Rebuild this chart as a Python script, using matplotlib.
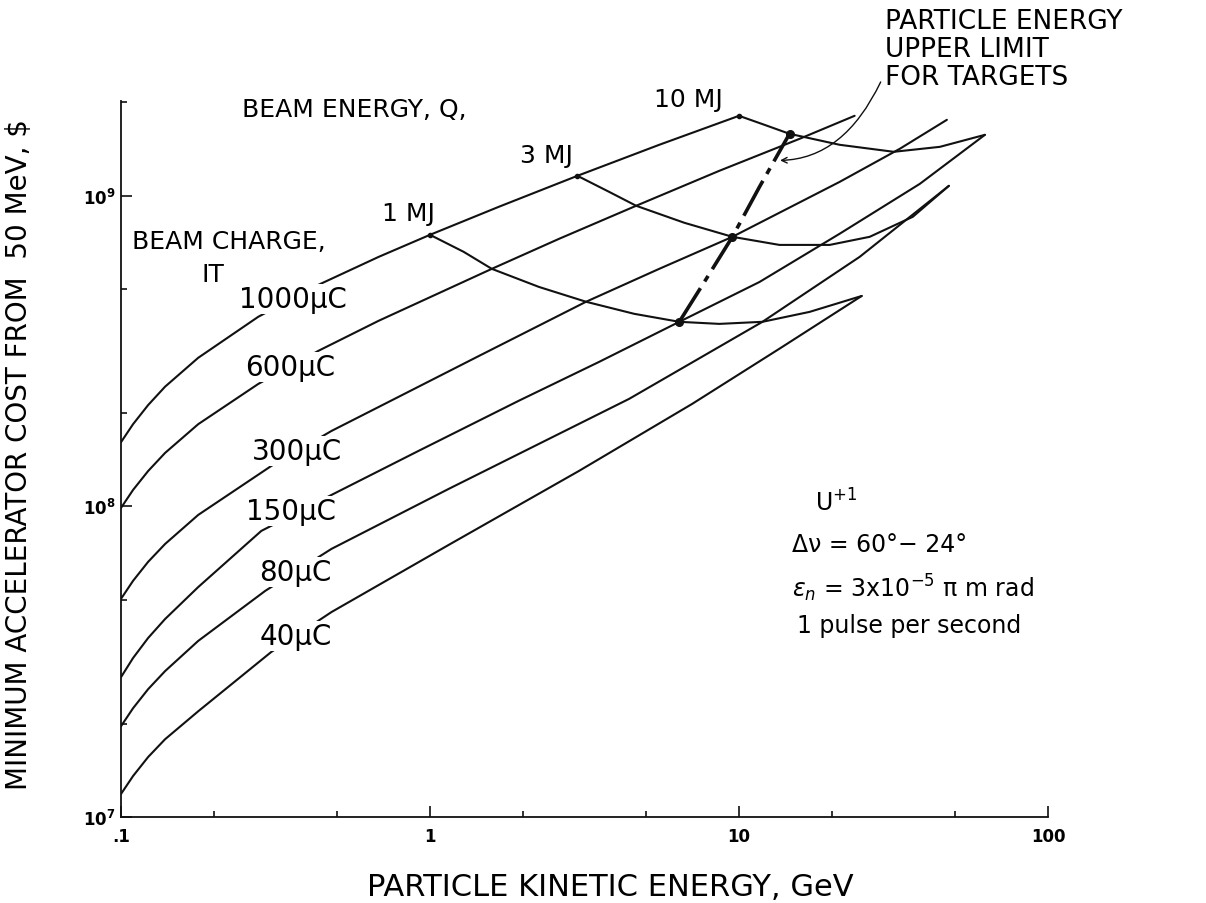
import numpy as np
import matplotlib.pyplot as plt
from matplotlib.ticker import FixedLocator, NullFormatter

W, H = 1206, 904

# beam charge curves: particle kinetic energy (GeV) -> minimum cost ($)
q1000_x = [0.1, 0.1094, 0.1224, 0.1389, 0.1778, 0.2782, 0.4355, 0.682, 1.0, 1.67, 3.0, 5.52, 10.0]
q1000_y = [1.61e8, 1.84e8, 2.12e8, 2.43e8, 3.01e8, 4.08e8, 5.17e8, 6.36e8, 7.49e8, 9.22e8, 1.16e9, 1.46e9, 1.81e9]

q600_x = [0.1, 0.1094, 0.1224, 0.1389, 0.1778, 0.2782, 0.4355, 0.682, 1.585, 2.615, 4.647, 8.638, 15.7, 23.67]
q600_y = [9.89e7, 1.13e8, 1.30e8, 1.487e8, 1.84e8, 2.48e8, 3.17e8, 3.96e8, 5.82e8, 7.27e8, 9.29e8, 1.204e9, 1.526e9, 1.81e9]

q300_x = [0.1, 0.1094, 0.1224, 0.1389, 0.1778, 0.3065, 0.48, 0.682, 1.439, 3.199, 5.518, 9.52, 21.17, 33.13, 47.07]
q300_y = [5.04e7, 5.76e7, 6.63e7, 7.57e7, 9.39e7, 1.35e8, 1.75e8, 2.09e8, 3.05e8, 4.56e8, 5.82e8, 7.38e8, 1.109e9, 1.417e9, 1.757e9]

q150_x = [0.1, 0.1094, 0.1224, 0.1389, 0.1778, 0.2845, 0.48, 0.919, 1.94, 3.526, 6.409, 11.65, 21.17, 38.48, 62.5]
q150_y = [2.82e7, 3.25e7, 3.77e7, 4.34e7, 5.50e7, 8.34e7, 1.089e8, 1.51e8, 2.19e8, 2.92e8, 3.93e8, 5.28e8, 7.55e8, 1.093e9, 1.572e9]

q80_x = [0.1, 0.1094, 0.1224, 0.1389, 0.1778, 0.2932, 0.48, 1.15, 4.411, 11.91, 24.57, 47.78]
q80_y = [1.96e7, 2.24e7, 2.58e7, 2.95e7, 3.69e7, 5.35e7, 7.30e7, 1.139e8, 2.22e8, 3.93e8, 6.36e8, 1.077e9]

q40_x = [0.1, 0.1094, 0.1224, 0.1389, 0.1778, 0.3065, 0.48, 1.15, 3.035, 7.062, 13.52, 24.95]
q40_y = [1.186e7, 1.355e7, 1.56e7, 1.78e7, 2.19e7, 3.40e7, 4.57e7, 7.52e7, 1.301e8, 2.14e8, 3.22e8, 4.76e8]

# beam energy curves
e1_x = [1.0, 1.286, 1.585, 2.252, 3.199, 4.579, 6.409, 8.638, 11.91, 16.92, 24.95]
e1_y = [7.49e8, 6.60e8, 5.82e8, 5.09e8, 4.56e8, 4.17e8, 3.93e8, 3.87e8, 3.93e8, 4.23e8, 4.76e8]

e3_x = [3.0, 3.799, 4.647, 6.653, 9.52, 13.52, 19.65, 26.48, 36.51, 47.78]
e3_y = [1.16e9, 1.03e9, 9.29e8, 8.19e8, 7.38e8, 6.95e8, 6.95e8, 7.38e8, 8.56e8, 1.077e9]

e10_x = [10.0, 12.09, 14.57, 21.17, 31.68, 44.67, 62.5]
e10_y = [1.81e9, 1.693e9, 1.584e9, 1.46e9, 1.386e9, 1.438e9, 1.572e9]

# particle energy upper limit for targets
lim_x = [6.409, 7.723, 9.52, 11.65, 14.57]
lim_y = [3.93e8, 5.28e8, 7.38e8, 1.069e9, 1.584e9]

start_x = [1.0, 3.0, 10.0]
start_y = [7.49e8, 1.16e9, 1.81e9]

xticks = [0.1, 1, 10, 100]
xtick_labels = ['.1', '1', '10', '100']
yticks = [1e7, 1e8, 1e9]
ytick_labels = [r'$\mathbf{10^{7}}$', r'$\mathbf{10^{8}}$', r'$\mathbf{10^{9}}$']

fig = plt.figure(figsize=(W / 100, H / 100), dpi=100)
ax = fig.add_axes([121 / W, 1 - 818 / H, (1048 - 121) / W, (818 - 102) / H])
ax.set_xscale('log')
ax.set_yscale('log')
ax.set_xlim(0.1, 100)
ax.set_ylim(1e7, 2.02e9)

lc = '#111111'
for xs, ys in [(q1000_x, q1000_y), (q600_x, q600_y), (q300_x, q300_y),
               (q150_x, q150_y), (q80_x, q80_y), (q40_x, q40_y),
               (e1_x, e1_y), (e3_x, e3_y), (e10_x, e10_y)]:
    ax.plot(xs, ys, color=lc, lw=1.5, solid_capstyle='round')

ax.plot(lim_x, lim_y, color=lc, lw=2.6, linestyle=(0, (11, 2.2, 1.8, 2.2)))
ax.plot(lim_x[::2], lim_y[::2], 'o', color=lc, ms=5.5)
ax.plot(start_x, start_y, 'o', color=lc, ms=3)

ax.annotate('', xy=(13.3, 1.30e9), xytext=(29.0, 2.37e9), annotation_clip=False,
            arrowprops=dict(arrowstyle='->', color=lc, lw=1.0,
                            connectionstyle='angle3,angleA=65,angleB=0'))

for s in ['top', 'right']:
    ax.spines[s].set_visible(False)
for s in ['left', 'bottom']:
    ax.spines[s].set_linewidth(1.3)
    ax.spines[s].set_color(lc)

ax.xaxis.set_major_locator(FixedLocator(xticks))
ax.xaxis.set_minor_locator(FixedLocator([0.2, 0.5, 2, 5, 20, 50]))
ax.yaxis.set_major_locator(FixedLocator(yticks))
ax.yaxis.set_minor_locator(FixedLocator([2e7, 5e7, 2e8, 5e8, 2e9]))
ax.xaxis.set_minor_formatter(NullFormatter())
ax.yaxis.set_minor_formatter(NullFormatter())
ax.set_xticklabels(xtick_labels, fontsize=12, fontweight='bold')
ax.set_yticklabels(ytick_labels, fontsize=12)
ax.tick_params(which='both', direction='in', width=1.2, color=lc)
ax.tick_params(which='major', length=8)
ax.tick_params(which='minor', length=4.5)
ax.tick_params(axis='x', pad=7)
ax.tick_params(axis='y', pad=4)


def ftext(px, py, s, size=18, ha='left', gap=False, **kw):
    bb = dict(facecolor='white', edgecolor='none', pad=1.0) if gap else None
    fig.text(px / W, 1 - py / H, s, fontsize=size, ha=ha, va='center', bbox=bb, **kw)


ftext(19, 455, r'MINIMUM ACCELERATOR COST FROM  50 MeV, \$', size=20, ha='center', rotation=90)
ftext(610, 888, 'PARTICLE KINETIC ENERGY, GeV', size=22, ha='center')

ftext(242, 110, 'BEAM ENERGY, Q,')
ftext(688, 100, '10 MJ', ha='center')
ftext(546, 156, '3 MJ', ha='center')
ftext(408, 214, '1 MJ', ha='center')
ftext(132, 242, 'BEAM CHARGE,')
ftext(213, 275, 'IT', ha='center')

ftext(293, 300, '1000μC', size=20, ha='center', gap=True)
ftext(290, 368, '600μC', size=20, ha='center', gap=True)
ftext(297, 452, '300μC', size=20, ha='center', gap=True)
ftext(291, 512, '150μC', size=20, ha='center', gap=True)
ftext(295, 573, '80μC', size=20, ha='center', gap=True)
ftext(296, 637, '40μC', size=20, ha='center', gap=True)

ftext(885, 22, 'PARTICLE ENERGY', size=19)
ftext(885, 50, 'UPPER LIMIT', size=19)
ftext(885, 78, 'FOR TARGETS', size=19)

ftext(815, 503, r'U$^{+1}$', size=17)
ftext(792, 545, r'Δν = 60°− 24°', size=17)
ftext(792, 588, r'$\epsilon_n$ = 3x10$^{-5}$ π m rad', size=17)
ftext(797, 626, '1 pulse per second', size=17)

fig.savefig('out.png', dpi=100, facecolor='white')
